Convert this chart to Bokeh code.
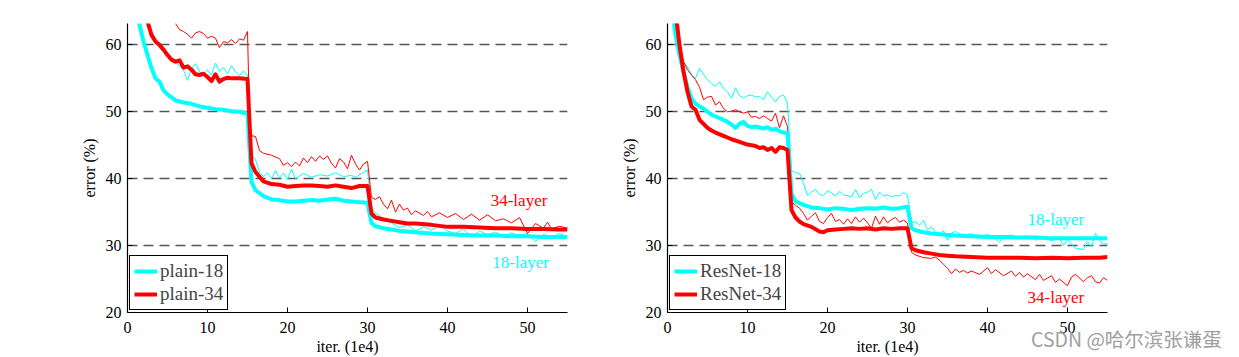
from bokeh.plotting import figure
from bokeh.models import Range1d, SingleIntervalTicker, Legend, LegendItem, Label, GridBox, Div
from bokeh.embed import file_html
from bokeh.resources import INLINE

# ---------------- data (iterations in 1e4, error in %) ----------------
# Left panel: plain networks
plain18_val_x = [1, 1.5, 2, 2.5, 3, 3.5, 4, 4.5, 5, 6, 7, 8, 9, 10, 11, 12, 13, 14, 15, 15.5, 16, 17, 18, 19, 20, 21, 22, 23, 24, 25, 26, 27, 28, 29, 30, 30.5, 31, 32, 33, 34, 35, 36, 38, 40, 42, 44, 46, 48, 50, 52, 54, 55]
plain18_val_y = [66, 63, 60.5, 58.5, 56.5, 55, 54.5, 53.2, 52.6, 51.7, 51.4, 51.2, 50.8, 50.6, 50.4, 50.3, 50.1, 50.0, 49.7, 39.5, 38.3, 37.4, 36.9, 36.8, 36.6, 36.6, 36.7, 36.8, 36.7, 36.9, 37.0, 36.7, 36.6, 36.5, 36.4, 33.4, 32.9, 32.6, 32.4, 32.2, 32.1, 32.0, 31.8, 31.7, 31.6, 31.5, 31.5, 31.4, 31.4, 31.3, 31.3, 31.3]

plain34_val_x = [2, 2.5, 3, 3.5, 4, 4.5, 5, 5.5, 6, 6.5, 7, 7.5, 8, 8.5, 9, 9.5, 10, 10.5, 11, 11.5, 12, 12.5, 13, 14, 15, 15.5, 16, 17, 18, 19, 20, 21, 22, 23, 24, 25, 26, 27, 28, 29, 30, 30.5, 31, 32, 33, 34, 35, 36, 38, 40, 42, 44, 46, 48, 50, 52, 54, 55]
plain34_val_y = [66, 63.5, 61.5, 60.5, 60, 59.3, 58.5, 57.8, 57.5, 57.7, 56.6, 56.8, 56.3, 55.6, 55.5, 55.7, 55.2, 54.6, 55.6, 54.5, 54.9, 55.1, 55.0, 55.0, 54.9, 42.3, 41.0, 39.6, 39.2, 39.1, 38.8, 38.9, 39.0, 39.0, 38.9, 38.8, 39.0, 38.8, 38.6, 38.9, 38.9, 34.8, 34.2, 33.9, 33.7, 33.5, 33.3, 33.3, 33.1, 32.8, 32.8, 32.7, 32.6, 32.6, 32.5, 32.5, 32.4, 32.4]

plain18_train_x = [2.5, 4, 5, 6, 7, 7.5, 8, 8.5, 9, 9.5, 10, 10.5, 11, 11.5, 12, 12.5, 13, 13.5, 14, 14.5, 15, 15.5, 16, 16.5, 17, 17.5, 18, 18.5, 19, 19.5, 20, 20.5, 21, 22, 23, 24, 25, 26, 27, 28, 28.5, 29, 30, 30.5, 31, 31.5, 32, 33, 34, 35, 36, 37, 38, 39, 40, 41, 42, 43, 44, 45, 46, 47, 48, 49, 50, 51, 52, 53, 54, 55]
plain18_train_y = [62.7, 59.5, 58.5, 57.5, 56.2, 54.7, 56.5, 57.2, 56.0, 55.6, 56.3, 55.5, 57.3, 56.0, 56.6, 55.7, 56.9, 56.0, 55.4, 56.1, 55.4, 43.5, 42.8, 41.0, 40.3, 40.9, 40.0, 41.2, 40.1, 40.8, 39.9, 41.4, 40.0, 40.8, 40.2, 40.6, 40.4, 40.9, 40.3, 40.5, 40.2, 40.6, 41.3, 35.6, 34.8, 34.5, 33.8, 33.4, 32.7, 33.1, 32.2, 32.8, 32.3, 33.0, 32.2, 31.8, 32.5, 31.3, 32.2, 31.6, 32.0, 31.4, 31.9, 31.5, 31.8, 30.6, 31.7, 31.2, 31.8, 31.3]

plain34_train_x = [6, 6.5, 7, 7.5, 8, 8.5, 9, 9.5, 10, 10.5, 11, 11.5, 12, 12.5, 13, 13.5, 14, 14.5, 15, 15.3, 16, 16.5, 17, 18, 19, 19.5, 20, 20.5, 21, 21.5, 22, 22.5, 23, 23.5, 24, 24.5, 25, 25.5, 26, 26.5, 27, 27.5, 28, 28.5, 29, 29.5, 30, 30.5, 31, 31.5, 32, 32.5, 33, 33.5, 34, 34.5, 35, 35.5, 36, 37, 37.5, 38, 39, 40, 41, 42, 43, 44, 45, 46, 47, 48, 49, 50, 51, 52, 52.5, 53, 54, 55]
plain34_train_y = [63.2, 62.3, 62.0, 61.6, 61.0, 61.8, 62.0, 61.7, 61.0, 61.3, 61.0, 59.6, 60.5, 60.3, 60.8, 60.2, 60.9, 60.7, 62.0, 46.5, 46.3, 44.2, 43.8, 43.5, 43.0, 42.0, 42.4, 41.8, 42.5, 41.9, 43.1, 42.4, 43.3, 42.6, 43.4, 42.9, 43.4, 42.3, 41.6, 43.0, 42.5, 41.5, 43.5, 42.2, 41.3, 42.2, 42.6, 37.2, 36.9, 37.3, 36.2, 35.5, 36.8, 35.0, 36.2, 35.3, 35.6, 34.6, 35.2, 34.5, 35.1, 34.3, 34.9, 34.2, 34.8, 33.9, 34.7, 33.8, 34.6, 33.7, 34.0, 33.4, 34.2, 31.8, 33.3, 32.6, 33.5, 32.5, 32.9, 32.6]

# Right panel: residual networks
res18_val_x = [0.5, 1, 1.5, 2, 2.5, 3, 3.5, 4, 4.5, 5, 5.5, 6, 7, 7.5, 8, 8.5, 9, 9.5, 10, 10.5, 11, 12, 12.5, 13, 13.5, 14, 14.5, 15, 15.5, 16, 17, 18, 19, 20, 21, 22, 23, 24, 25, 26, 27, 28, 29, 30, 30.5, 31, 32, 33, 34, 35, 36, 38, 40, 42, 44, 46, 48, 50, 52, 54, 55]
res18_val_y = [66, 61.5, 58.5, 56, 53.7, 52, 51.2, 50.8, 50.5, 50, 49.6, 49.3, 48.8, 48.5, 48.1, 47.6, 48.2, 48.5, 47.9, 47.7, 47.8, 47.5, 47.7, 47.3, 47.5, 47.1, 46.9, 46.8, 37.8, 36.6, 36.1, 35.7, 35.6, 35.4, 35.6, 35.5, 35.3, 35.5, 35.6, 35.5, 35.7, 35.5, 35.6, 35.8, 32.6, 32.3, 32.0, 31.8, 31.7, 31.6, 31.5, 31.4, 31.3, 31.3, 31.2, 31.2, 31.1, 31.1, 31.1, 31.1, 31.1]

res34_val_x = [1, 1.5, 2, 2.5, 3, 3.5, 4, 4.5, 5, 5.5, 6, 7, 8, 9, 10, 11, 11.5, 12, 12.5, 13, 13.5, 14, 14.5, 15, 15.5, 16, 16.5, 17, 18, 19, 19.5, 20, 21, 22, 23, 24, 25, 26, 27, 28, 29, 30, 30.5, 31, 32, 33, 34, 35, 36, 38, 40, 42, 44, 46, 48, 50, 52, 54, 55]
res34_val_y = [65, 60, 56, 53, 50.8, 50.3, 48.8, 48.2, 47.6, 47.2, 46.9, 46.4, 45.9, 45.5, 45.1, 44.9, 44.6, 44.7, 44.3, 44.6, 44.0, 44.7, 44.6, 44.3, 35.3, 34.2, 33.6, 33.2, 32.8, 32.1, 32.0, 32.3, 32.4, 32.5, 32.6, 32.5, 32.6, 32.4, 32.6, 32.5, 32.6, 32.6, 29.6, 29.3, 29.0, 28.8, 28.6, 28.5, 28.4, 28.3, 28.2, 28.2, 28.2, 28.1, 28.2, 28.1, 28.2, 28.2, 28.3]

res18_train_x = [1, 1.5, 2, 2.5, 3, 3.5, 4, 4.5, 5, 5.5, 6, 6.5, 7, 7.5, 8, 8.5, 9, 9.5, 10, 10.5, 11, 11.5, 12, 12.5, 13, 13.5, 14, 14.5, 15, 15.5, 16, 16.5, 17, 17.5, 18, 18.5, 19, 19.5, 20, 20.5, 21, 21.5, 22, 23, 23.5, 24, 24.5, 25, 25.5, 26, 26.5, 27, 27.5, 28, 28.5, 29, 29.5, 30, 30.5, 31, 31.5, 32, 32.5, 33, 33.5, 34, 34.5, 35, 35.5, 36, 37, 38, 39, 40, 41, 41.5, 42, 43, 44, 45, 46, 47, 48, 49, 49.5, 50, 51, 52, 52.5, 53, 53.5, 54, 54.5, 55]
res18_train_y = [64, 60, 57.5, 56.7, 55.5, 55.0, 56.5, 55.6, 54.8, 54.2, 53.8, 54.5, 53.5, 53.0, 52.0, 53.6, 52.4, 52.1, 52.4, 52.5, 52.2, 52.3, 51.8, 53.0, 52.2, 51.5, 52.3, 52.5, 51.3, 41.2, 40.9, 40.8, 39.3, 37.5, 38.0, 38.4, 37.6, 37.5, 38.2, 37.9, 37.4, 38.1, 37.6, 37.3, 38.4, 37.2, 37.8, 38.0, 38.4, 36.9, 38.0, 37.4, 37.6, 37.3, 37.5, 37.4, 38.0, 37.5, 33.4, 33.6, 33.0, 33.8, 32.3, 32.8, 32.0, 31.8, 32.2, 30.8, 31.9, 32.1, 31.4, 31.8, 31.2, 31.7, 31.0, 30.5, 31.2, 31.6, 31.0, 31.5, 30.8, 31.3, 30.7, 31.2, 30.0, 30.9, 29.6, 29.4, 30.6, 29.8, 31.8, 30.8, 30.1, 30.4]

res34_train_x = [1, 1.5, 2, 2.5, 3, 3.5, 4, 4.5, 5, 5.5, 6, 6.5, 7, 7.5, 8, 8.5, 9, 9.5, 10, 10.5, 11, 11.5, 12, 12.5, 13, 13.5, 14, 14.5, 15, 15.5, 16, 16.5, 17, 17.5, 18, 18.5, 19, 19.5, 20, 20.5, 21, 21.5, 22, 22.5, 23, 23.5, 24, 24.5, 25, 25.5, 26, 26.5, 27, 27.5, 28, 28.5, 29, 29.5, 30, 30.5, 31, 32, 33, 33.5, 34, 34.5, 35, 35.5, 36, 36.5, 37, 37.5, 38, 39, 40, 40.5, 41, 42, 43, 43.5, 44, 44.5, 45, 46, 46.5, 47, 48, 48.5, 49, 50, 50.5, 51, 52, 52.5, 53, 53.5, 54, 54.5, 55]
res34_train_y = [64, 60, 57.5, 56.3, 55.5, 54.8, 53.7, 51.8, 52.2, 52.3, 51.0, 51.5, 50.5, 50.0, 50.1, 50.3, 50.0, 49.8, 50.0, 49.2, 49.3, 49.0, 49.4, 49.0, 48.6, 49.8, 47.6, 49.4, 47.8, 36.6, 36.0, 35.6, 34.8, 33.8, 34.4, 34.9, 33.6, 33.3, 34.2, 34.8, 33.6, 33.9, 33.2, 34.0, 33.3, 34.3, 33.5, 34.1, 33.4, 32.6, 34.4, 33.2, 34.3, 33.4, 33.9, 34.2, 33.5, 33.8, 33.4, 29.0, 28.6, 28.2, 28.1, 28.3, 27.8, 27.2, 26.6, 25.8, 26.5, 26.0, 26.3, 25.9, 26.2, 25.7, 26.7, 25.8, 26.4, 25.5, 26.2, 25.4, 26.0, 25.3, 25.8, 24.9, 25.7, 24.8, 25.5, 24.5, 25.0, 24.0, 25.3, 25.7, 24.6, 25.2, 25.5, 24.6, 24.4, 25.2, 24.8]

x_ticks_step = 10
y_ticks_step = 10
x_range = (0, 55)
y_range = (20, 63.2)

watermark = "CSDN @哈尔滨张谦蛋"

CYAN = "#00FFFF"
RED = "#FF0000"
SERIF = "Liberation Serif"


def make_panel(width, left, right, val18, val34, tr18, tr34, names, labels):
    p = figure(width=width, height=357, output_backend="svg", toolbar_location=None,
               x_range=Range1d(*x_range), y_range=Range1d(*y_range),
               min_border_left=left, min_border_right=right,
               min_border_top=23, min_border_bottom=45)
    p.outline_line_color = None
    p.background_fill_color = "white"
    p.border_fill_color = "white"

    p.xaxis.ticker = SingleIntervalTicker(interval=x_ticks_step)
    p.yaxis.ticker = SingleIntervalTicker(interval=y_ticks_step)
    for ax in (p.xaxis, p.yaxis):
        ax.axis_line_color = "black"
        ax.axis_line_width = 1.2
        ax.major_tick_in = 5
        ax.major_tick_out = 0
        ax.major_tick_line_color = "black"
        ax.minor_tick_line_color = None
        ax.major_label_text_font = SERIF
        ax.major_label_text_font_size = "16px"
        ax.major_label_text_color = "black"
        ax.axis_label_text_font = SERIF
        ax.axis_label_text_font_size = "16px"
        ax.axis_label_text_font_style = "normal"
        ax.axis_label_text_color = "black"
    p.xaxis.axis_label = "iter. (1e4)"
    p.yaxis.axis_label = "error (%)"
    p.xaxis.major_label_standoff = 5
    p.xaxis.axis_label_standoff = 2
    p.yaxis.major_label_standoff = 2
    p.yaxis.axis_label_standoff = 5

    p.xgrid.grid_line_color = None
    p.ygrid.grid_line_color = "#555555"
    p.ygrid.grid_line_width = 1.5
    p.ygrid.grid_line_dash = "10 6"

    p.line(tr18[0], tr18[1], line_color=CYAN, line_width=1)
    p.line(tr34[0], tr34[1], line_color=RED, line_width=1)
    r18 = p.line(val18[0], val18[1], line_color=CYAN, line_width=4, line_join="round")
    r34 = p.line(val34[0], val34[1], line_color=RED, line_width=4, line_join="round")

    legend = Legend(items=[LegendItem(label=names[0], renderers=[r18]),
                           LegendItem(label=names[1], renderers=[r34])],
                    location="bottom_left")
    legend.margin = 2
    legend.padding = 4
    legend.spacing = 1
    legend.glyph_width = 23
    legend.label_standoff = 3
    legend.label_text_font = SERIF
    legend.label_text_font_size = "19px"
    legend.border_line_color = "black"
    legend.border_line_width = 1.5
    legend.border_line_alpha = 1
    legend.background_fill_alpha = 1
    p.add_layout(legend)

    for (txt, x, y, col) in labels:
        p.add_layout(Label(x=x, y=y, text=txt, text_color=col, text_font=SERIF,
                           text_font_size="17px", text_baseline="middle"))
    return p


p1 = make_panel(610, 127, 43,
                (plain18_val_x, plain18_val_y), (plain34_val_x, plain34_val_y),
                (plain18_train_x, plain18_train_y), (plain34_train_x, plain34_train_y),
                ("plain-18", "plain-34"),
                [("34-layer", 45.4, 36.8, RED), ("18-layer", 45.6, 27.5, CYAN)])
p2 = make_panel(629, 57, 132,
                (res18_val_x, res18_val_y), (res34_val_x, res34_val_y),
                (res18_train_x, res18_train_y), (res34_train_x, res34_train_y),
                ("ResNet-18", "ResNet-34"),
                [("18-layer", 45.0, 33.9, CYAN), ("34-layer", 45.0, 22.3, RED)])

# transparent text layer over the right-hand panel carrying the page watermark
mark = Div(text=watermark, width=629, height=357,
           styles={"padding-left": "416px", "padding-top": "322px",
                   "box-sizing": "border-box", "white-space": "nowrap",
                   "color": "#A0A0A0", "font-family": "Noto Sans CJK SC",
                   "font-size": "19.5px", "line-height": "24px",
                   "pointer-events": "none"})

layout = GridBox(children=[(p1, 0, 0), (p2, 0, 1), (mark, 0, 1)])
open("out.html", "w").write(file_html(layout, INLINE))
